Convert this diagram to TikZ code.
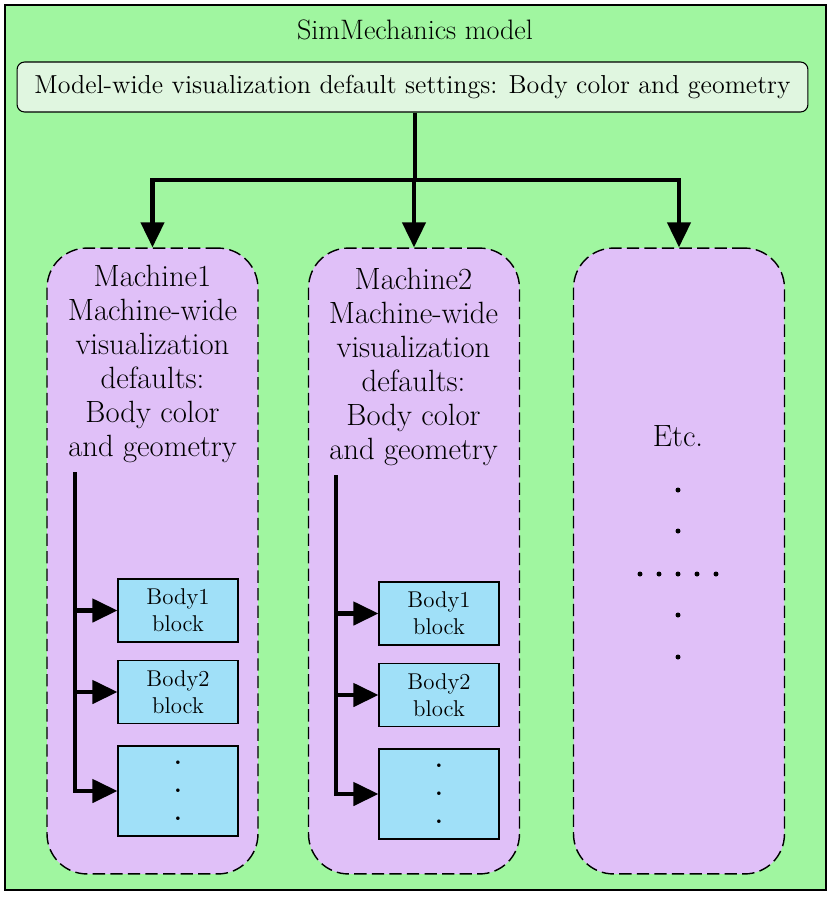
\documentclass[tikz,border=0pt]{standalone}
\usetikzlibrary{arrows.meta,positioning}
\definecolor{modelgreen}{RGB}{160,246,160}
\definecolor{settingsgreen}{RGB}{224,246,224}
\definecolor{machinelilac}{RGB}{224,192,248}
\definecolor{bodyblue}{RGB}{160,224,248}
\tikzset{
  settingsbox/.style={draw,line width=0.6pt,fill=settingsgreen,rounded corners=0.15cm,
    minimum width=15.82cm,minimum height=1cm,font=\fontsize{14.8}{17}\selectfont},
  machinebox/.style={draw,line width=0.8pt,dash pattern=on 7pt off 3pt,fill=machinelilac,
    rounded corners=0.8cm,minimum width=4.22cm,minimum height=12.52cm},
  machinetext/.style={align=center,inner sep=0pt,font=\fontsize{17.5}{19.3}\selectfont},
  bodyblock/.style={draw,line width=0.6pt,fill=bodyblue,align=center,inner sep=0pt,
    minimum width=2.4cm,minimum height=1.26cm,font=\fontsize{13}{15.5}\selectfont},
  wire/.style={line width=0.085cm},
  feed/.style={wire,-{Triangle[length=0.5cm,width=0.46cm]}}
}
\begin{document}
\begin{tikzpicture}[x=0.02cm,y=-0.02cm]
    \useasboundingbox (0,0) rectangle (830,897);
    \draw[line width=1.2pt,fill=modelgreen] (5,5) rectangle (826,890);

    \node[font=\fontsize{16}{19}\selectfont] (title) at (415,30) {SimMechanics model};
    \node[settingsbox] (settings) at (412.5,87)
      {Model-wide visualization default settings: Body color and geometry};

    \foreach \i/\x in {1/152.5,2/414,3/679}
      \node[machinebox] (m\i) at (\x,561) {};

    \coordinate (split) at (415,180);
    \draw[wire] (split |- settings.south) -- (split);
    \foreach \i in {1,2,3}
      \draw[feed] (split) -| (m\i);

    \foreach \i/\dx/\dy in {1/0/0,2/261/3}{
      \begin{scope}[shift={(\dx,\dy)}]
        \node[machinetext] (t\i) at (152.5,364)
          {Machine\i\\Machine-wide\\visualization\\defaults:\\Body color\\and geometry};

        \node[bodyblock] (b\i1) at (178,610.5) {Body1\\block};
        \node[bodyblock] (b\i2) at (178,692) {Body2\\block};
        \node[bodyblock,minimum height=1.8cm,font=\fontsize{14}{16}\bfseries] (b\i3) at (178,791) {.\\.\\.};

        \coordinate (r\i) at (75,472);
        \draw[feed] (r\i) |- (b\i3);
        \draw[feed] (r\i |- b\i1) -- (b\i1);
        \draw[feed] (r\i |- b\i2) -- (b\i2);
      \end{scope}
    }

    \node[font=\fontsize{17.5}{19}\selectfont] (etc) at (678,436) {Etc.};
    \foreach \y in {490,531,615,657}
      \fill (678,\y) circle[radius=0.05cm];
    \foreach \x in {640,659,...,716}
      \fill (\x,574) circle[radius=0.05cm];
\end{tikzpicture}
\end{document}
